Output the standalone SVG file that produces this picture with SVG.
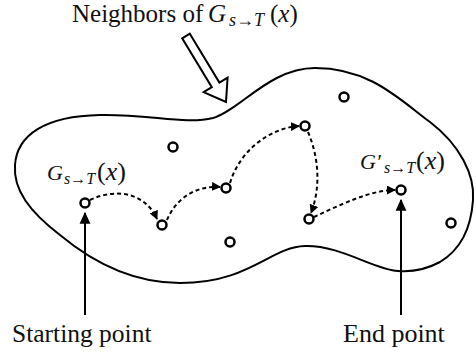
<svg xmlns="http://www.w3.org/2000/svg" width="476" height="358" viewBox="0 0 476 358">
<style>
text{font-family:'Liberation Serif','Times New Roman','DejaVu Serif',serif;fill:#111}
.i{font-style:italic}
.n{fill:#fff;stroke:#000;stroke-width:2.5}
.d{fill:none;stroke:#000;stroke-width:2;stroke-dasharray:4 3}
.s{fill:none;stroke:#000;stroke-width:2}
</style>
<defs>
<marker id="ah" viewBox="0 0 10 10" refX="9" refY="5" markerWidth="9" markerHeight="9" markerUnits="userSpaceOnUse" orient="auto">
<path d="M0,0 L10,5 L0,10 Z" fill="#000"/>
</marker>
<marker id="ah2" viewBox="0 0 10 10" refX="9" refY="5" markerWidth="12" markerHeight="12" markerUnits="userSpaceOnUse" orient="auto">
<path d="M0,0.5 L10,5 L0,9.5 Z" fill="#000"/>
</marker>
</defs>
<g id="region">
<path class="s" d="M213,118 C240,110 270,68 315,68 C370,68 400,100 430,122 C460,145 475,175 473,200 C471,230 460,250 440,262 C425,270 410,272 398,271 C375,270 340,245 305,246 C270,247 250,283 180,283 C130,283 90,260 60,235 C30,212 13,190 15,165 C17,135 45,116 100,115 C150,114 185,125 213,118 Z"/>
</g>
<g id="title">
<text font-family="Liberation Serif, serif" x="72" y="22" font-size="25">Neighbors of</text>
<text font-family="Liberation Serif, serif" class="i" x="208" y="22" font-size="25">G</text>
<text font-family="Liberation Serif, serif" x="229" y="26" font-size="18"><tspan class="i">s</tspan>→<tspan class="i">T</tspan></text>
<text font-family="Liberation Serif, serif" x="270" y="22" font-size="25">(<tspan class="i">x</tspan>)</text>
</g>
<g id="pointer">
<path d="M189.8,33.7 L219.4,82.6 L227.6,77.6 L226,102 L203.6,92.2 L211.8,87.2 L182.2,38.3 Z" fill="#fff" stroke="#000" stroke-width="2" stroke-linejoin="miter"/>
</g>
<g id="connectors">
<path class="d" d="M90,200 C115,188 145,192 157,219" marker-end="url(#ah)"/>
<path class="d" d="M167,220 C175,200 195,185 220,187" marker-end="url(#ah)"/>
<path class="d" d="M230,183 C240,150 270,128 299,126" marker-end="url(#ah)"/>
<path class="d" d="M308,132 C320,160 320,190 311,213" marker-end="url(#ah)"/>
<path class="d" d="M314,217 C340,205 370,190 395,190" marker-end="url(#ah)"/>
<line class="s" x1="85" y1="315" x2="85" y2="213" marker-end="url(#ah2)"/>
<line class="s" x1="401" y1="315" x2="401" y2="200" marker-end="url(#ah2)"/>
</g>
<g id="start">
<circle class="n" cx="85" cy="203" r="4.5"/>
<text font-family="Liberation Serif, serif" class="i" x="47" y="180" font-size="22">G</text>
<text font-family="Liberation Serif, serif" x="64" y="184" font-size="16"><tspan class="i">s</tspan>→<tspan class="i">T</tspan></text>
<text font-family="Liberation Serif, serif" x="97" y="180" font-size="26">(<tspan class="i">x</tspan>)</text>
</g>
<g id="n2"><circle class="n" cx="162" cy="225" r="4.5"/></g>
<g id="n3"><circle class="n" cx="226" cy="188" r="4.5"/></g>
<g id="n4"><circle class="n" cx="305" cy="126" r="4.5"/></g>
<g id="n5"><circle class="n" cx="309" cy="219" r="4.5"/></g>
<g id="end">
<circle class="n" cx="401" cy="190" r="4.5"/>
<text font-family="Liberation Serif, serif" class="i" x="360" y="169" font-size="22">G′</text>
<text font-family="Liberation Serif, serif" x="384" y="173" font-size="16"><tspan class="i">s</tspan>→<tspan class="i">T</tspan></text>
<text font-family="Liberation Serif, serif" x="416" y="169" font-size="26">(<tspan class="i">x</tspan>)</text>
</g>
<g id="o1"><circle class="n" cx="173" cy="147" r="4.5"/></g>
<g id="o2"><circle class="n" cx="230" cy="242" r="4.5"/></g>
<g id="o3"><circle class="n" cx="344" cy="97" r="4.5"/></g>
<g id="o4"><circle class="n" cx="451" cy="223" r="4.5"/></g>
<g id="labels">
<text font-family="Liberation Serif, serif" x="12" y="342" font-size="25.5">Starting point</text>
<text font-family="Liberation Serif, serif" x="343" y="342" font-size="26">End point</text>
</g>
</svg>
